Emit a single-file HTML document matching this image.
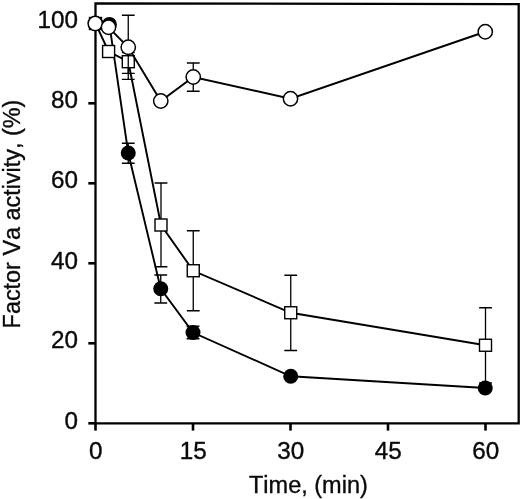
<!DOCTYPE html>
<html><head><meta charset="utf-8"><title>Factor Va activity</title>
<style>
html,body{margin:0;padding:0;background:#fff}
svg{display:block}
text{font-family:"Liberation Sans",Arial,sans-serif;fill:#0a0a0a;stroke:#0a0a0a;stroke-width:0.35px;font-kerning:none}
.tk{font-size:23px}
.ti{font-size:24px}
</style></head><body>
<svg width="520" height="499" viewBox="0 0 520 499">
<rect width="520" height="499" fill="#fff"/>
<path d="M95.5 423.4V3.4L518.7 4.1V423.4Z" fill="none" stroke="#000" stroke-width="2.3" stroke-linejoin="miter"/>
<line x1="88.3" y1="423.30" x2="95.5" y2="423.30" stroke="#000" stroke-width="2.6"/>
<text transform="translate(78 428.70) scale(1.055 1)" text-anchor="end" class="tk">0</text>
<line x1="88.3" y1="343.30" x2="95.5" y2="343.30" stroke="#000" stroke-width="2.6"/>
<text transform="translate(78 348.20) scale(1.055 1)" text-anchor="end" class="tk">20</text>
<line x1="88.3" y1="263.30" x2="95.5" y2="263.30" stroke="#000" stroke-width="2.6"/>
<text transform="translate(78 268.60) scale(1.055 1)" text-anchor="end" class="tk">40</text>
<line x1="88.3" y1="183.30" x2="95.5" y2="183.30" stroke="#000" stroke-width="2.6"/>
<text transform="translate(78 188.20) scale(1.055 1)" text-anchor="end" class="tk">60</text>
<line x1="88.3" y1="103.30" x2="95.5" y2="103.30" stroke="#000" stroke-width="2.6"/>
<text transform="translate(78 108.20) scale(1.055 1)" text-anchor="end" class="tk">80</text>
<line x1="88.3" y1="23.30" x2="95.5" y2="23.30" stroke="#000" stroke-width="2.6"/>
<text transform="translate(78 28.20) scale(1.055 1)" text-anchor="end" class="tk">100</text>
<line x1="95.50" y1="423" x2="95.50" y2="430.6" stroke="#000" stroke-width="2.6"/>
<text transform="translate(95.80 458.9) scale(1.055 1)" text-anchor="middle" class="tk">0</text>
<line x1="193.00" y1="423" x2="193.00" y2="430.6" stroke="#000" stroke-width="2.6"/>
<text transform="translate(193.30 458.9) scale(1.055 1)" text-anchor="middle" class="tk">15</text>
<line x1="290.50" y1="423" x2="290.50" y2="430.6" stroke="#000" stroke-width="2.6"/>
<text transform="translate(290.80 458.9) scale(1.055 1)" text-anchor="middle" class="tk">30</text>
<line x1="388.00" y1="423" x2="388.00" y2="430.6" stroke="#000" stroke-width="2.6"/>
<text transform="translate(388.30 458.9) scale(1.055 1)" text-anchor="middle" class="tk">45</text>
<line x1="485.50" y1="423" x2="485.50" y2="430.6" stroke="#000" stroke-width="2.6"/>
<text transform="translate(485.80 458.9) scale(1.055 1)" text-anchor="middle" class="tk">60</text>
<polyline fill="none" stroke="#000" stroke-width="1.9" points="95.50,23.50 109.40,24.40 128.25,153.00 160.75,288.75 193.00,332.50 290.75,376.25 485.25,388.00"/>
<path d="M128.25 143.25V163.25M121.85 143.25H134.65M121.85 163.25H134.65" stroke="#000" stroke-width="1.3" fill="none"/>
<path d="M160.75 275.00V303.00M154.35 275.00H167.15M154.35 303.00H167.15" stroke="#000" stroke-width="1.3" fill="none"/>
<path d="M193.00 326.25V338.75M186.60 326.25H199.40M186.60 338.75H199.40" stroke="#000" stroke-width="1.3" fill="none"/>
<circle cx="95.50" cy="23.50" r="7.5" fill="#000"/>
<circle cx="109.40" cy="24.40" r="7.5" fill="#000"/>
<circle cx="128.25" cy="153.00" r="7.5" fill="#000"/>
<circle cx="160.75" cy="288.75" r="7.5" fill="#000"/>
<circle cx="193.00" cy="332.50" r="7.5" fill="#000"/>
<circle cx="290.75" cy="376.25" r="7.5" fill="#000"/>
<circle cx="485.25" cy="388.00" r="7.5" fill="#000"/>
<polyline fill="none" stroke="#000" stroke-width="1.9" points="95.50,23.50 108.60,51.50 128.30,61.70 161.00,225.00 193.25,270.75 290.75,312.75 485.50,345.25"/>
<path d="M128.30 52.60V73.40M121.90 52.60H134.70M121.90 73.40H134.70" stroke="#000" stroke-width="1.3" fill="none"/>
<path d="M161.00 183.00V266.75M154.60 183.00H167.40M154.60 266.75H167.40" stroke="#000" stroke-width="1.3" fill="none"/>
<path d="M193.25 230.75V310.75M186.85 230.75H199.65M186.85 310.75H199.65" stroke="#000" stroke-width="1.3" fill="none"/>
<path d="M290.75 275.25V350.50M284.35 275.25H297.15M284.35 350.50H297.15" stroke="#000" stroke-width="1.3" fill="none"/>
<path d="M485.50 307.75V383.00M479.10 307.75H491.90M479.10 383.00H491.90" stroke="#000" stroke-width="1.3" fill="none"/>
<rect x="89.50" y="17.50" width="12" height="12" fill="#fff" stroke="#000" stroke-width="1.4"/>
<rect x="102.60" y="45.50" width="12" height="12" fill="#fff" stroke="#000" stroke-width="1.4"/>
<rect x="122.30" y="55.70" width="12" height="12" fill="#fff" stroke="#000" stroke-width="1.4"/>
<rect x="155.00" y="219.00" width="12" height="12" fill="#fff" stroke="#000" stroke-width="1.4"/>
<rect x="187.25" y="264.75" width="12" height="12" fill="#fff" stroke="#000" stroke-width="1.4"/>
<rect x="284.75" y="306.75" width="12" height="12" fill="#fff" stroke="#000" stroke-width="1.4"/>
<rect x="479.50" y="339.25" width="12" height="12" fill="#fff" stroke="#000" stroke-width="1.4"/>
<polyline fill="none" stroke="#000" stroke-width="1.9" points="95.25,23.50 108.50,27.25 128.25,47.25 160.75,101.00 193.25,77.00 290.50,98.75 485.25,31.75"/>
<path d="M128.25 15.25V79.40M121.85 15.25H134.65M121.85 79.40H134.65" stroke="#000" stroke-width="1.3" fill="none"/>
<path d="M193.25 63.00V91.25M186.85 63.00H199.65M186.85 91.25H199.65" stroke="#000" stroke-width="1.3" fill="none"/>
<circle cx="95.25" cy="23.50" r="7.15" fill="#fff" stroke="#000" stroke-width="1.5"/>
<circle cx="108.50" cy="27.25" r="7.15" fill="#fff" stroke="#000" stroke-width="1.5"/>
<circle cx="128.25" cy="47.25" r="7.15" fill="#fff" stroke="#000" stroke-width="1.5"/>
<circle cx="160.75" cy="101.00" r="7.15" fill="#fff" stroke="#000" stroke-width="1.5"/>
<circle cx="193.25" cy="77.00" r="7.15" fill="#fff" stroke="#000" stroke-width="1.5"/>
<circle cx="290.50" cy="98.75" r="7.15" fill="#fff" stroke="#000" stroke-width="1.5"/>
<circle cx="485.25" cy="31.75" r="7.15" fill="#fff" stroke="#000" stroke-width="1.5"/>
<text x="308.4" y="493" text-anchor="middle" class="ti" style="font-size:23.5px">Time, (min)</text>
<text transform="translate(19.8 214.0) rotate(-90) scale(0.975 1.025)" text-anchor="middle" class="ti">Factor Va activity, (%)</text>
</svg>
</body></html>
